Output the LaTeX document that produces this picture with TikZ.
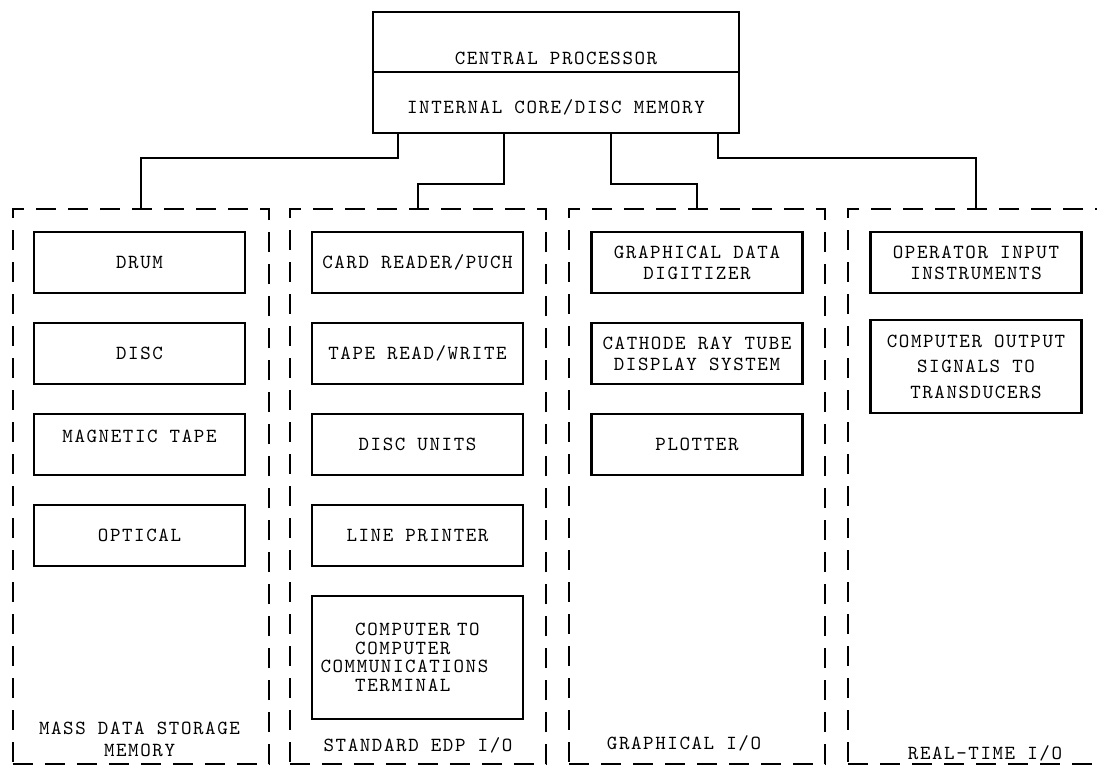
\documentclass[tikz,border=0pt]{standalone}
\usepackage{fontspec}
\usepackage{tikz}
\setmonofont{lmmono10-regular}[Extension=.otf,LetterSpace=8]
\newcommand\typer{\ttfamily\fontsize{20}{21}\selectfont}

\begin{document}
\begin{tikzpicture}[x=1pt,y=-1pt,node distance=91pt,
  every node/.style={font=\typer,align=center,inner sep=0pt},
  core/.style={draw,line width=2.4pt,minimum width=366pt},
  unit/.style={draw,line width=2.6pt,minimum width=211pt,minimum height=61pt},
  group/.style={draw,line width=2pt,dash pattern=on 20pt off 12pt,minimum width=256pt,minimum height=555pt},
  link/.style={line width=2pt}]
\useasboundingbox (0,0) rectangle (1097,766);
\clip (0,0) rectangle (1097,766);
%\draw[red] (0,0) grid[step=100] (1097,766);
\node[core,minimum height=60pt,text height=44pt,text depth=0pt] (CPU) at (556,42) {CENTRAL PROCESSOR};
\node[core,minimum height=61pt,text height=21pt,text depth=0pt,node distance=60.5pt] (MEM) [below of=CPU] {INTERNAL CORE/DISC MEMORY};

\node[group] (MASS) at (140.5,486.5) {};
\node[group] (EDP) at (417.5,486.5) {};
\node[group] (GIO) at (697,486.5) {};
\node[group] (RTIO) at (976,486.5) {};

\node[unit] (DRUM) at (139.5,262.5) {DRUM};
\node[unit] (DISC) [below of=DRUM] {DISC};
\node[unit,text depth=16pt] (TAPE) [below of=DISC] {MAGNETIC TAPE};
\node[unit] (OPT) [below of=TAPE] {OPTICAL};

\node[unit] (CARD) at (417.5,262.5) {CARD READER/PUCH};
\node[unit] (TRW) [below of=CARD] {TAPE READ/WRITE};
\node[unit] (DSK) [below of=TRW] {DISC UNITS};
\node[unit] (LPR) [below of=DSK] {LINE PRINTER};
\node[unit,node distance=122pt,minimum height=123pt,align=left,text width=194pt] (CCT) [below of=LPR]
  {\phantom{COM}COMPUTER TO\\[-2.5pt]\phantom{COM}COMPUTER\\[-2.5pt]COMMUNICATIONS\\[-2.5pt]\phantom{COM}TERMINAL};

\node[unit] (GDD) at (697,262.5) {GRAPHICAL DATA\\DIGITIZER};
\node[unit] (CRT) [below of=GDD] {CATHODE RAY TUBE\\DISPLAY SYSTEM};
\node[unit] (PLT) [below of=CRT] {PLOTTER};

\node[unit] (OPIN) at (976,262.5) {OPERATOR INPUT\\INSTRUMENTS};
\node[unit,node distance=104pt,minimum height=93pt] (COUT) [below of=OPIN] {COMPUTER OUTPUT\\[4.5pt]SIGNALS TO\\[4.5pt]TRANSDUCERS};

\node (MASSL) at (139.5,739) {MASS DATA STORAGE\\[1pt]MEMORY};
\node (EDPL) at (418,745) {STANDARD EDP I/O};
\node (GIOL) at (684,743) {GRAPHICAL I/O};
\node (RTIOL) at (985,753) {REAL-TIME I/O};

\draw[link] ([xshift=-158pt]MEM.south) -- ++(0,24) -| (MASS.north);
\draw[link] ([xshift=-52pt]MEM.south) -- ++(0,50) -| (EDP.north);
\draw[link] ([xshift=55pt]MEM.south) -- ++(0,50) -| (GIO.north);
\draw[link] ([xshift=162pt]MEM.south) -- ++(0,24) -| (RTIO.north);
\end{tikzpicture}
\end{document}
